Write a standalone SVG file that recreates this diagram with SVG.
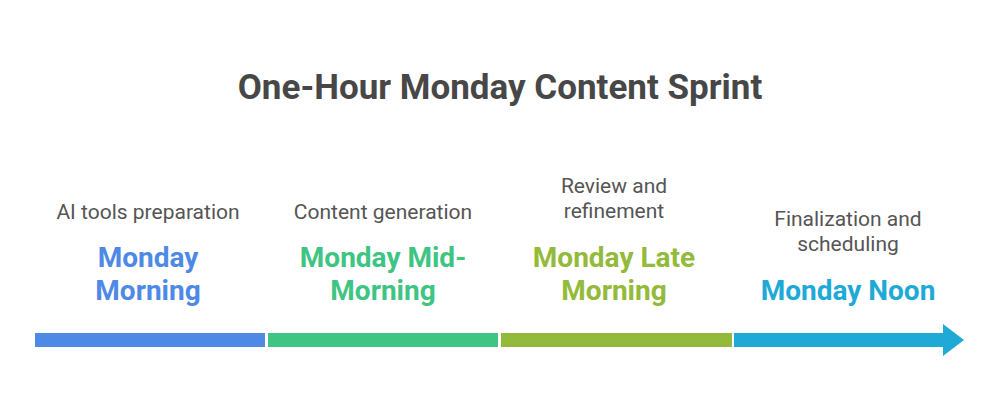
<svg xmlns="http://www.w3.org/2000/svg" width="1000" height="400" viewBox="0 0 1000 400">
<style>
.title{font-family:Roboto,"Liberation Sans",sans-serif;font-weight:bold;font-size:35px;fill:#474747;text-anchor:middle}
.desc{font-family:Roboto,"Liberation Sans",sans-serif;font-size:21px;fill:#555;text-anchor:middle}
.head{font-family:Roboto,"Liberation Sans",sans-serif;font-weight:bold;font-size:28px;text-anchor:middle}
</style>
<rect width="1000" height="400" fill="#fff"/>
<text class="title" x="500" y="99">One-Hour Monday Content Sprint</text>
<g id="connectors">
<rect x="35" y="333" width="230" height="14" fill="#4F89E6"/>
<rect x="268" y="333" width="230" height="14" fill="#3EC483"/>
<rect x="501" y="333" width="231" height="14" fill="#93BA3A"/>
<path d="M734 333 H943 V324 L964 340 L943 356 V347 H734 Z" fill="#1FA9D6"/>
</g>
<g id="node1">
<text class="desc" x="148" y="219">AI tools preparation</text>
<text class="head" x="148" y="267" fill="#4F89E6">Monday</text>
<text class="head" x="148" y="300" fill="#4F89E6">Morning</text>
</g>
<g id="node2">
<text class="desc" x="383" y="219">Content generation</text>
<text class="head" x="383" y="267" fill="#3EC483">Monday Mid-</text>
<text class="head" x="383" y="300" fill="#3EC483">Morning</text>
</g>
<g id="node3">
<text class="desc" x="614" y="193">Review and</text>
<text class="desc" x="614" y="218">refinement</text>
<text class="head" x="614" y="267" fill="#93BA3A">Monday Late</text>
<text class="head" x="614" y="300" fill="#93BA3A">Morning</text>
</g>
<g id="node4">
<text class="desc" x="848" y="226">Finalization and</text>
<text class="desc" x="848" y="251">scheduling</text>
<text class="head" x="848" y="300" fill="#1FA9D6">Monday Noon</text>
</g>
</svg>
